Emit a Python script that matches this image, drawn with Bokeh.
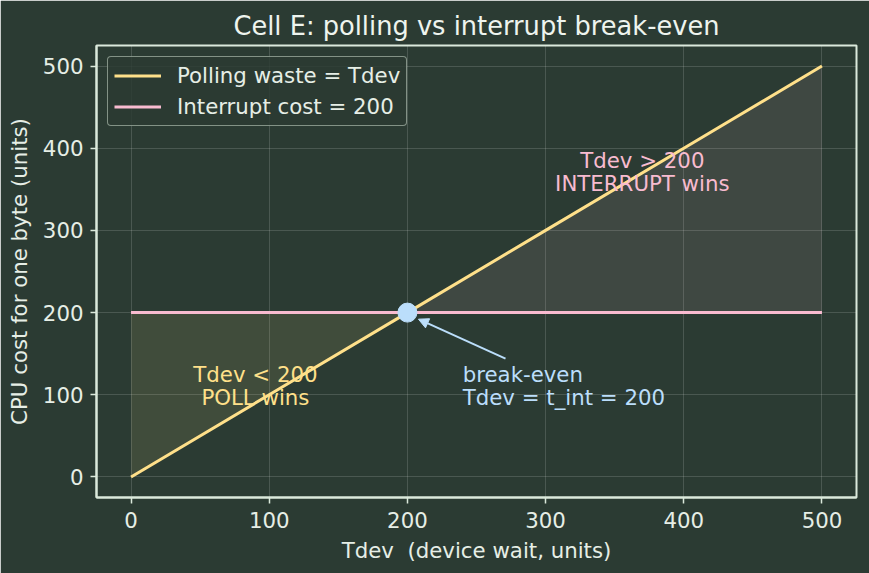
from bokeh.plotting import figure
from bokeh.models import Range1d, Arrow, NormalHead, Legend, LegendItem
from bokeh.embed import file_html
from bokeh.resources import INLINE
from bokeh.core.properties import value

# --- data -----------------------------------------------------------------
tdev = [0, 100, 200, 300, 400, 500]            # device wait (units)
polling_waste = [0, 100, 200, 300, 400, 500]   # polling burns the whole wait
interrupt_cost = [200, 200, 200, 200, 200, 200]  # fixed interrupt overhead
t_int = 200

poll_x = [0, 100, 200]
poll_lo = [0, 100, 200]
poll_hi = [200, 200, 200]

intr_x = [200, 300, 400, 500]
intr_lo = [200, 200, 200, 200]
intr_hi = [200, 300, 400, 500]

poll_lines = ["Tdev < 200", "POLL wins"]
intr_lines = ["Tdev > 200", "INTERRUPT wins"]
be_lines = ["break-even", "Tdev = t_int = 200"]

# --- style ----------------------------------------------------------------
BG = "#2b3b33"
FG = "#e6eee6"
SPINE = "#dbe9dc"
YELLOW = "#ffe08a"
PINK = "#f8bbd0"
BLUE = "#bbdefb"
FONT = "DejaVu Sans"
FS = "21.3px"

p = figure(width=869, height=573, output_backend="svg", toolbar_location=None,
           x_range=Range1d(-25, 525), y_range=Range1d(-25, 525),
           min_border_left=96, min_border_right=13, min_border_top=45, min_border_bottom=76)

p.background_fill_color = BG
p.border_fill_color = BG
p.outline_line_color = SPINE
p.outline_line_width = 2

p.title.text = "Cell E: polling vs interrupt break-even"
p.title.align = "center"
p.title.text_font = FONT
p.title.text_font_size = "25.7px"
p.title.text_font_style = "normal"
p.title.text_color = "#eef4ee"

for ax in (p.xaxis[0], p.yaxis[0]):
    ax.axis_line_color = SPINE
    ax.axis_line_width = 2
    ax.major_tick_line_color = SPINE
    ax.major_tick_line_width = 1.5
    ax.major_tick_out = 6
    ax.major_tick_in = 0
    ax.minor_tick_line_color = None
    ax.major_label_text_font = FONT
    ax.major_label_text_font_size = FS
    ax.major_label_text_color = FG
    ax.major_label_standoff = 8
    ax.axis_label_text_font = FONT
    ax.axis_label_text_font_size = FS
    ax.axis_label_text_font_style = "normal"
    ax.axis_label_text_color = FG

p.xaxis.ticker = [0, 100, 200, 300, 400, 500]
p.yaxis.ticker = [0, 100, 200, 300, 400, 500]
p.xaxis.axis_label = "Tdev\u00a0 (device wait, units)"
p.yaxis.axis_label = "CPU cost for one byte (units)"
p.xaxis.axis_label_standoff = 7
p.yaxis.axis_label_standoff = 8
p.yaxis.major_label_standoff = 7

p.grid.grid_line_color = "#ffffff"
p.grid.grid_line_alpha = 0.15
p.grid.grid_line_width = 1

# shaded regions where each strategy wins
p.varea(x=poll_x, y1=poll_lo, y2=poll_hi, fill_color=YELLOW, fill_alpha=0.1)
p.varea(x=intr_x, y1=intr_lo, y2=intr_hi, fill_color=PINK, fill_alpha=0.1)

r_poll = p.line(tdev, polling_waste, line_color=YELLOW, line_width=3)
r_int = p.line(tdev, interrupt_cost, line_color=PINK, line_width=3)

# break-even marker and annotation
p.scatter([t_int], [t_int], size=19, fill_color=BLUE, line_color=BLUE)
p.add_layout(Arrow(end=NormalHead(size=10, fill_color=BLUE, line_color=BLUE),
                   x_start=271, y_start=144, x_end=208, y_end=192,
                   line_color=BLUE, line_width=2))

def label_block(x, ys, lines, color, align):
    p.text(x=[x] * len(lines), y=ys, text=lines, text_color=color,
           text_font=value(FONT), text_font_size=FS, text_align=align,
           text_baseline="middle")

label_block(90, [125, 97], poll_lines, YELLOW, "center")
label_block(370, [385, 357], intr_lines, PINK, "center")
label_block(240, [125, 97], be_lines, BLUE, "left")

legend = Legend(items=[LegendItem(label="Polling waste = Tdev", renderers=[r_poll]),
                       LegendItem(label="Interrupt cost = 200", renderers=[r_int])],
                location="top_left")
legend.margin = 11
legend.padding = 6
legend.spacing = 6
legend.glyph_width = 47
legend.glyph_height = 23
legend.label_height = 23
legend.label_standoff = 16
legend.label_text_font = FONT
legend.label_text_font_size = FS
legend.label_text_color = FG
legend.background_fill_color = BG
legend.background_fill_alpha = 0.85
legend.border_line_color = SPINE
legend.border_line_width = 1.5
try:
    legend.border_radius = 4
except AttributeError:
    pass
p.add_layout(legend, "center")

open("out.html", "w").write(file_html(p, INLINE))
